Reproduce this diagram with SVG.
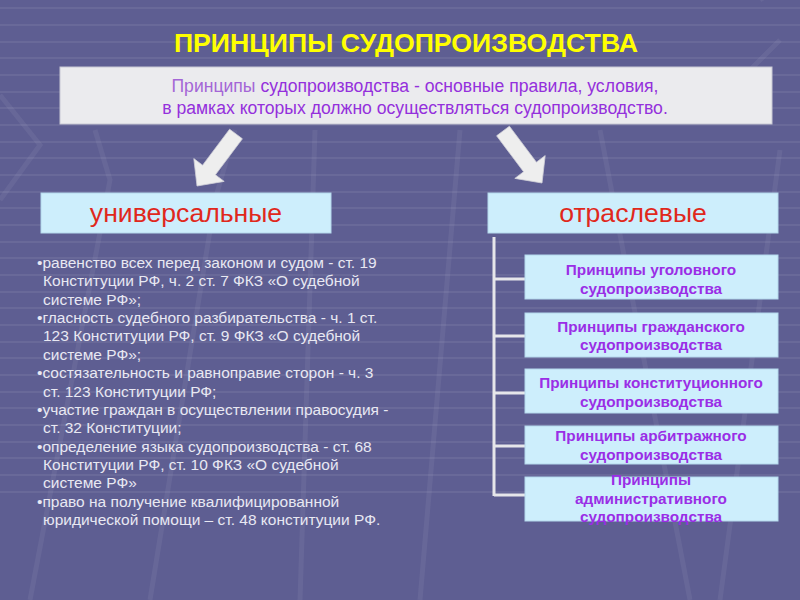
<svg xmlns="http://www.w3.org/2000/svg" width="800" height="600" viewBox="0 0 800 600">
<defs>
<style>
.bg{fill:#5e5e92}
.grid{stroke:#ffffff;stroke-opacity:0.07;stroke-width:2;fill:none}
.diag{stroke:#ffffff;stroke-opacity:0.06;stroke-width:5;fill:none}
.title{font-family:"Liberation Sans",Arial,sans-serif;font-weight:bold;font-size:26.7px;fill:#ffff00;text-anchor:middle}
.defbox{fill:#ebebee;stroke:#c8c8d4;stroke-width:1}
.deftext{font-family:"Liberation Sans",Arial,sans-serif;font-size:17.6px;fill:#9430dc;text-anchor:middle}
.catbox{fill:#cdeefc;stroke:#b4d8ec;stroke-width:1}
.cattext{font-family:"Liberation Sans",Arial,sans-serif;font-size:26.6px;fill:#e0281c;text-anchor:middle}
.subbox{fill:#cdeefc;stroke:#b4d8ec;stroke-width:1}
.subtext{font-family:"Liberation Sans",Arial,sans-serif;font-weight:bold;font-size:15.3px;fill:#9a2ee6;text-anchor:middle}
.list{font-family:"Liberation Sans",Arial,sans-serif;font-size:15.5px;fill:#e8e8f2}
.tree{stroke:#e6e6ea;stroke-width:3;fill:none}
.arrow{fill:#eeeeee;stroke:#d0d0d8;stroke-width:0.8}
</style>
</defs>
<rect class="bg" x="0" y="0" width="800" height="600"/>
<g id="background">
<path class="grid" d="M0 8H800M0 25H800M0 42H800M0 58H800M0 75H800M0 92H800M0 108H800M0 125H800M0 142H800M0 158H800M0 175H800M0 192H800M0 208H800M0 225H800M0 242H800M0 258H800M0 275H800M0 292H800M0 308H800M0 325H800M0 342H800M0 358H800M0 375H800M0 392H800M0 408H800M0 425H800M0 442H800M0 458H800M0 475H800M0 492H800"/>
<path class="diag" d="M0 95L40 145L0 200M95 130L110 180L30 600M235 130L215 200L150 600M315 130L300 600M460 130L420 600M600 130L690 600M700 120L780 40M760 0L800 -30M780 150L720 600"/>
</g>
<g id="title"><text class="title" x="406" y="52">ПРИНЦИПЫ СУДОПРОИЗВОДСТВА</text></g>
<g id="definition">
<rect class="defbox" x="60" y="67" width="712" height="57"/>
<text class="deftext" x="415" y="92"><tspan fill="#a466d6">Принципы</tspan> судопроизводства - основные правила, условия,</text>
<text class="deftext" x="415" y="114">в рамках которых должно осуществляться судопроизводство.</text>
</g>
<g id="connectors">
<polygon class="arrow" points="229.6,129.2 242.4,138.8 215.4,174.8 224.2,181.4 197,186 193.8,158.6 202.6,165.2"/>
<polygon class="arrow" points="496.6,135.8 509.4,126.2 536.4,162.2 545.2,155.6 542,183 514.8,178.4 523.6,171.8"/>
<path class="tree" d="M494 237V496M494 279H525M494 336H525M494 393H525M494 446H525M494 495H525"/>
</g>
<g id="universal">
<rect class="catbox" x="41" y="193" width="290" height="40"/>
<text class="cattext" x="186" y="222">универсальные</text>
</g>
<g id="universal-list">
<text class="list" x="37" y="268">•равенство всех перед законом и судом - ст. 19</text>
<text class="list" x="43" y="286.4">Конституции РФ, ч. 2 ст. 7 ФКЗ «О судебной</text>
<text class="list" x="43" y="304.7">системе РФ»;</text>
<text class="list" x="37" y="323.1">•гласность судебного разбирательства - ч. 1 ст.</text>
<text class="list" x="43" y="341.4">123 Конституции РФ, ст. 9 ФКЗ «О судебной</text>
<text class="list" x="43" y="359.8">системе РФ»;</text>
<text class="list" x="37" y="378.2">•состязательность и равноправие сторон - ч. 3</text>
<text class="list" x="43" y="396.5">ст. 123 Конституции РФ;</text>
<text class="list" x="37" y="414.9">•участие граждан в осуществлении правосудия -</text>
<text class="list" x="43" y="433.2">ст. 32 Конституции;</text>
<text class="list" x="37" y="451.6">•определение языка судопроизводства - ст. 68</text>
<text class="list" x="43" y="470">Конституции РФ, ст. 10 ФКЗ «О судебной</text>
<text class="list" x="43" y="488.3">системе РФ»</text>
<text class="list" x="37" y="506.7">•право на получение квалифицированной</text>
<text class="list" x="43" y="525">юридической помощи – ст. 48 конституции РФ.</text>
</g>
<g id="branch">
<rect class="catbox" x="488" y="193" width="290" height="40"/>
<text class="cattext" x="633" y="222">отраслевые</text>
</g>
<g id="criminal">
<rect class="subbox" x="525" y="255" width="253" height="44"/>
<text class="subtext" x="651" y="275">Принципы уголовного</text>
<text class="subtext" x="651" y="294">судопроизводства</text>
</g>
<g id="civil">
<rect class="subbox" x="525" y="313" width="253" height="44"/>
<text class="subtext" x="651" y="332">Принципы гражданского</text>
<text class="subtext" x="651" y="350">судопроизводства</text>
</g>
<g id="constitutional">
<rect class="subbox" x="525" y="369" width="253" height="44"/>
<text class="subtext" x="651" y="388">Принципы конституционного</text>
<text class="subtext" x="651" y="407">судопроизводства</text>
</g>
<g id="arbitration">
<rect class="subbox" x="525" y="426" width="253" height="38"/>
<text class="subtext" x="651" y="441">Принципы арбитражного</text>
<text class="subtext" x="651" y="460">судопроизводства</text>
</g>
<g id="administrative">
<rect class="subbox" x="525" y="477" width="253" height="44"/>
<text class="subtext" x="651" y="485">Принципы</text>
<text class="subtext" x="651" y="504">административного</text>
<text class="subtext" x="651" y="522">судопроизводства</text>
</g>
</svg>
